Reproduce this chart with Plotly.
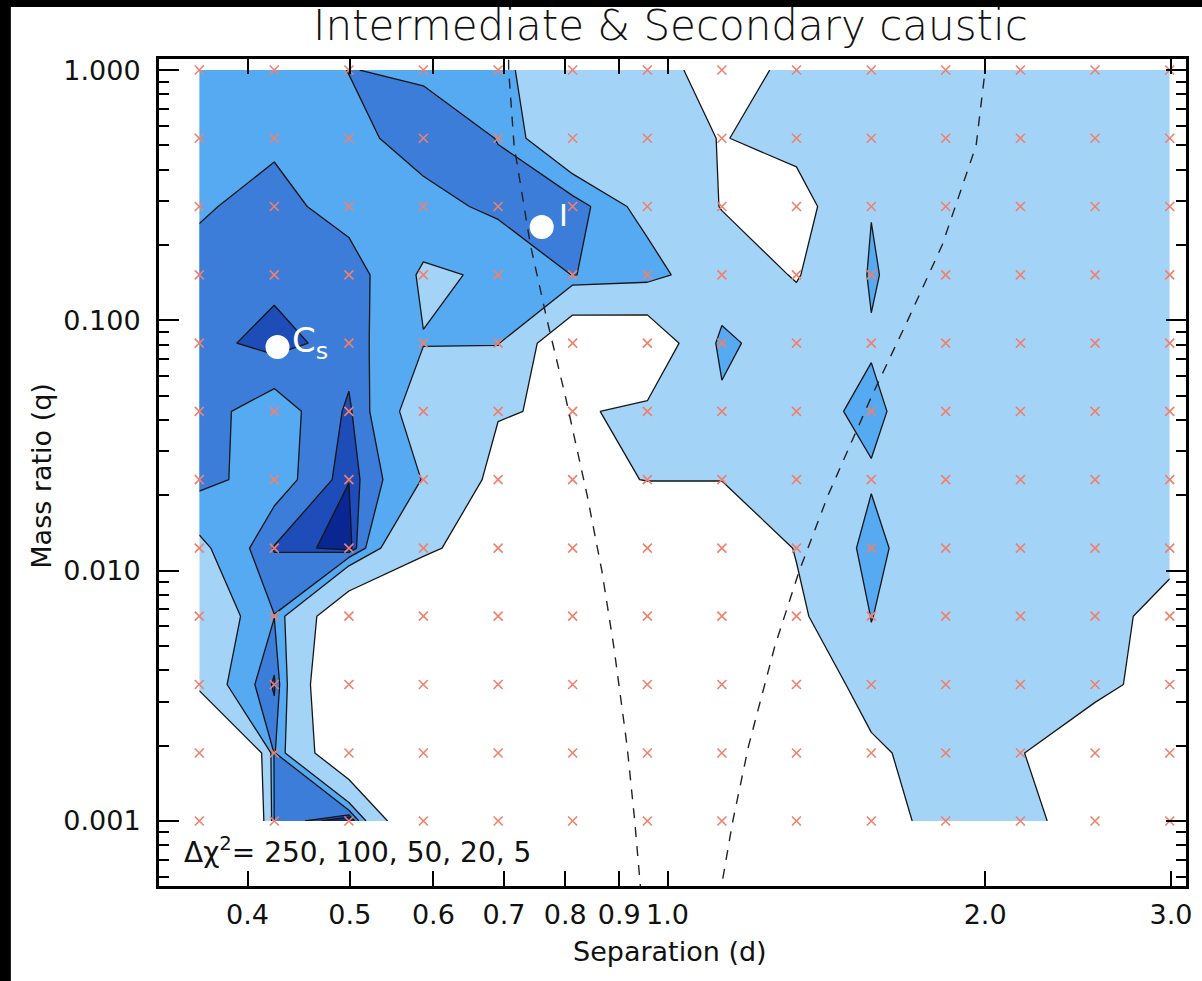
import numpy as np
import plotly.graph_objects as go

# ---------------- data ----------------
# grid of separations d (columns) and mass ratios q (rows, top -> bottom)
d_grid = [0.360, 0.424, 0.499, 0.587, 0.691, 0.813, 0.957, 1.126, 1.325, 1.560, 1.835, 2.160, 2.542, 2.992]
q_grid = [1.0, 0.534, 0.285, 0.152, 0.0811, 0.0433, 0.0231, 0.0123, 0.00658, 0.00351, 0.00187, 0.001]

# delta chi^2 at each grid point (rows follow q_grid, columns follow d_grid)
dchi2_q1000 = [80, 80, 49, 56, 85, 150, 202, 300, 222, 170, 180, 185, 185, 190]
dchi2_q0534 = [75, 58, 64, 30, 51, 182, 190, 255, 208, 170, 180, 185, 185, 190]
dchi2_q0285 = [55, 35, 69, 66, 40, 25, 128, 255, 308, 103, 180, 185, 185, 190]
dchi2_q0152 = [35, 28, 27, 108, 93, 49, 66, 172, 260, 90, 181, 185, 185, 190]
dchi2_q0081 = [30, 10, 32, 98, 95, 390, 380, 75, 170, 108, 180, 185, 185, 190]
dchi2_q0043 = [35, 70, 15, 140, 243, 264, 226, 121, 134, 80, 175, 185, 185, 190]
dchi2_q0023 = [37, 70, 5.5, 103, 290, 276, 247, 247, 230, 109, 180, 185, 185, 190]
dchi2_q0012 = [115, 18, -5, 240, 280, 500, 400, 400, 242, 65, 211, 185, 180, 200]
dchi2_q00066 = [160, 51, 400, 323, 500, 600, 600, 600, 280, 98, 170, 180, 186, 311]
dchi2_q00035 = [150, 15, 500, 600, 600, 700, 700, 700, 503, 120, 160, 180, 220, 299]
dchi2_q00019 = [1260, 45, 422, 600, 700, 700, 700, 700, 600, 306, 106, 245, 335, 380]
dchi2_q00010 = [1500, 48, -20, 500, 700, 700, 700, 700, 700, 372, 150, 166, 400, 450]

dchi2_rows = [dchi2_q1000, dchi2_q0534, dchi2_q0285, dchi2_q0152, dchi2_q0081, dchi2_q0043,
              dchi2_q0023, dchi2_q0012, dchi2_q00066, dchi2_q00035, dchi2_q00019, dchi2_q00010]

levels = [250, 100, 50, 20, 5]
level_colors = ['#A4D3F8', '#55AAF2', '#3B7DD8', '#1E4CB8', '#0A2692']

# topology boundaries (dashed): close/intermediate and intermediate/wide
q_boundary = [1.1, 1.0, 0.5, 0.2, 0.1, 0.05, 0.02, 0.01, 0.005, 0.002, 0.001, 0.00055]
d_close = [0.707, 0.7071, 0.7155, 0.7415, 0.769, 0.800, 0.8392, 0.8665, 0.8893, 0.9155, 0.931, 0.9425]
d_wide = [1.999, 2.0, 1.961, 1.821, 1.689, 1.562, 1.4194, 1.3333, 1.264, 1.1937, 1.1531, 1.1251]

# labelled solutions
sol_names = ['I', 'C<sub>s</sub>']
sol_d = [0.760, 0.427]
sol_q = [0.236, 0.0782]

x_ticks = [0.4, 0.5, 0.6, 0.7, 0.8, 0.9, 1.0, 2.0, 3.0]
x_ticktext = ['0.4', '0.5', '0.6', '0.7', '0.8', '0.9', '1.0', '2.0', '3.0']
y_ticks = [0.001, 0.01, 0.1, 1.0]
y_ticktext = ['0.001', '0.010', '0.100', '1.000']
y_minor = [0.0006, 0.0007, 0.0008, 0.0009,
           0.002, 0.003, 0.004, 0.005, 0.006, 0.007, 0.008, 0.009,
           0.02, 0.03, 0.04, 0.05, 0.06, 0.07, 0.08, 0.09,
           0.2, 0.3, 0.4, 0.5, 0.6, 0.7, 0.8, 0.9]

# ---------------- figure ----------------
FONT = 'DejaVu Sans'
W, H = 1202, 981
ML, MR, MT, MB = 159, 10, 59, 95
PW, PH = W - ML - MR, H - MT - MB


def px2paper(px, py):
    return (px - ML) / PW, (H - MB - py) / PH


q_asc = q_grid[::-1]
z_asc = np.array(dchi2_rows[::-1], dtype=float)
neg_z = -z_asc  # region "dchi2 < level"  ==  region "-dchi2 > -level"

fig = go.Figure()

for lev, col in zip(levels, level_colors):
    fig.add_trace(go.Contour(
        x=d_grid, y=q_asc, z=neg_z,
        autocontour=False,
        contours=dict(type='levels', start=-lev, end=-lev, size=1, coloring='fill', showlines=True),
        colorscale=[[0, 'rgba(255,255,255,0)'], [0.6, 'rgba(255,255,255,0)'], [1, col]],
        line=dict(color='#151515', width=1.3, smoothing=0),
        showscale=False, hoverinfo='skip', showlegend=False,
    ))

gx, gy = np.meshgrid(d_grid, q_grid)
fig.add_trace(go.Scatter(
    x=gx.ravel(), y=gy.ravel(), mode='markers',
    marker=dict(symbol='x-thin', size=9, line=dict(width=1.6, color='#F0806C')),
    hoverinfo='skip', showlegend=False))

for dd in (d_close, d_wide):
    fig.add_trace(go.Scatter(
        x=dd, y=q_boundary, mode='lines',
        line=dict(color='#222222', width=1.4, dash='10px,9px'),
        hoverinfo='skip', showlegend=False))

fig.add_trace(go.Scatter(
    x=sol_d, y=sol_q, mode='markers',
    marker=dict(symbol='circle', size=24, color='white'),
    hoverinfo='skip', showlegend=False))

fig.add_annotation(x=np.log10(sol_d[0]) + 0.021, y=np.log10(sol_q[0]) + 0.045, xref='x', yref='y',
                   text=sol_names[0], showarrow=False, xanchor='center', yanchor='middle',
                   font=dict(family=FONT, size=30, color='white', weight=500))
fig.add_annotation(x=np.log10(sol_d[1]) + 0.012, y=np.log10(sol_q[1]) + 0.02, xref='x', yref='y',
                   text=sol_names[1], showarrow=False, xanchor='left', yanchor='middle',
                   font=dict(family=FONT, size=34, color='white', weight=500))

# title and axis titles
tx, ty = px2paper(673, 26)
fig.add_annotation(x=tx, y=ty, xref='paper', yref='paper', text='Intermediate & Secondary caustic',
                   showarrow=False, xanchor='center', yanchor='middle',
                   font=dict(family=FONT, size=42, color='#111111', weight=300))
ax_, ay_ = px2paper(673, 951)
fig.add_annotation(x=ax_, y=ay_, xref='paper', yref='paper', text='Separation (d)',
                   showarrow=False, xanchor='center', yanchor='middle',
                   font=dict(family=FONT, size=27, color='#111111'))
bx, by = px2paper(40, 476)
fig.add_annotation(x=bx, y=by, xref='paper', yref='paper', text='Mass ratio (q)', textangle=-90,
                   showarrow=False, xanchor='center', yanchor='middle',
                   font=dict(family=FONT, size=27, color='#111111'))
cx, cy = px2paper(182, 850)
fig.add_annotation(x=cx, y=cy, xref='paper', yref='paper',
                   text='\u0394\u03c7<sup>2</sup>= ' + ', '.join(str(v) for v in levels),
                   showarrow=False, xanchor='left', yanchor='middle',
                   font=dict(family=FONT, size=28, color='#111111'))

# black edge bands of the original image (top and left)
_, ytop0 = px2paper(0, 7)
xl1, _ = px2paper(10, 0)
fig.add_shape(type='rect', xref='paper', yref='paper', x0=-0.3, x1=1.2, y0=ytop0, y1=1.3,
              fillcolor='black', line=dict(width=0), layer='above')
fig.add_shape(type='rect', xref='paper', yref='paper', x0=-0.3, x1=xl1, y0=-0.3, y1=1.3,
              fillcolor='black', line=dict(width=0), layer='above')

fig.update_layout(
    width=W, height=H,
    margin=dict(l=ML, r=MR, t=MT, b=MB, pad=0),
    paper_bgcolor='white', plot_bgcolor='white',
    font=dict(family=FONT, size=27, color='#111111'),
    showlegend=False,
)
fig.update_xaxes(
    type='log', range=[np.log10(0.3297), np.log10(3.10)],
    tickmode='array', tickvals=x_ticks, ticktext=x_ticktext, tickangle=0,
    ticks='inside', ticklen=15, tickwidth=2, tickcolor='black',
    showline=True, linecolor='black', linewidth=3, mirror='ticks',
    showgrid=False, zeroline=False, ticklabelstandoff=3,
    tickfont=dict(family=FONT, size=27, color='#111111'),
)
fig.update_yaxes(
    type='log', range=[np.log10(0.00055), np.log10(1.107)],
    tickmode='array', tickvals=y_ticks, ticktext=y_ticktext,
    ticks='inside', ticklen=20, tickwidth=2, tickcolor='black',
    minor=dict(tickmode='array', tickvals=y_minor, ticks='inside', ticklen=10, tickwidth=2,
               tickcolor='black', showgrid=False),
    showline=True, linecolor='black', linewidth=3, mirror='allticks',
    showgrid=False, zeroline=False, ticklabelstandoff=10,
    tickfont=dict(family=FONT, size=27, color='#111111'),
)

fig.write_html('out.html', config={'displayModeBar': False},
               post_script="document.body.style.margin='0';document.body.style.padding='0';")
